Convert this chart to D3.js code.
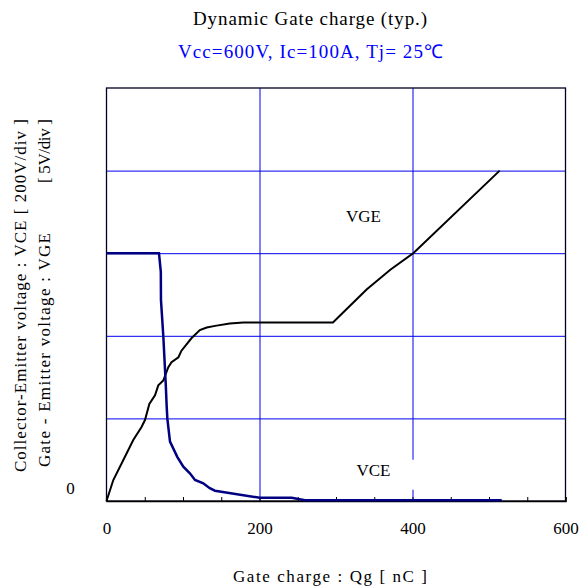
<!DOCTYPE html>
<html>
<head>
<meta charset="utf-8">
<script src="https://cdn.jsdelivr.net/npm/d3@7"></script>
<style>
  body { margin: 0; background: #fff; }
  text { font-family: 'Liberation Serif', 'Times New Roman', serif; }
</style>
</head>
<body>
<div class="canvas"></div>
<script>
'use strict';

// gate charge [nC] / VGE [V]
const qgVGE = [0, 8.9, 22, 35, 46, 50.3, 56, 63.4, 67.7, 74.3, 80.8, 85, 94, 98, 111, 122, 131, 142, 161, 179, 296, 318, 340, 371, 401, 514];
const vge = [0, 1.27, 2.48, 3.69, 4.5, 4.9, 5.87, 6.4, 7.0, 7.3, 8.1, 8.4, 8.7, 9.1, 9.85, 10.35, 10.5, 10.6, 10.75, 10.8, 10.8, 11.8, 12.8, 14.0, 15.0, 20.0];

// gate charge [nC] / VCE [V]
const qgVCE = [0, 68.6, 71, 71.2, 74.3, 77.4, 78.7, 79.5, 83, 92.5, 100.4, 109, 115.7, 126.5, 135, 141.8, 200, 242, 259.5, 516.6];
const vce = [600, 600, 555, 487, 398, 285, 228, 200, 144, 107, 83, 67, 51, 43, 31, 25, 8, 8, 2, 2];

const xTicks = [0, 50, 100, 150, 200, 250, 300, 350, 400, 450, 500, 550, 600];
const xLabels = [0, 200, 400, 600];
const vgeGrid = [5, 10, 15, 20];
const xGrid = [200, 400];

const svg = d3
  .select('.canvas')
  .append('svg')
  .attr('width', 579)
  .attr('height', 587);

const margin = { top: 88, left: 106.5 };
const graphWidth = 459;
const graphHeight = 413;

const graph = svg
  .append('g')
  .attr('transform', `translate(${margin.left},${margin.top})`);

const x = d3.scaleLinear().domain([0, 600]).range([0, graphWidth]);
const yVGE = d3.scaleLinear().domain([0, 25]).range([graphHeight, 0]);
const yVCE = d3.scaleLinear().domain([0, 1000]).range([graphHeight, 0]);

// grid
const gridY = graph
  .append('g')
  .call(d3.axisLeft(yVGE).tickValues(vgeGrid).tickSize(-graphWidth).tickFormat(''));
gridY.select('.domain').remove();
gridY.selectAll('line').attr('stroke', '#0000ee').attr('stroke-width', 1);

const gridX = graph
  .append('g')
  .attr('transform', `translate(0,${graphHeight})`)
  .call(d3.axisBottom(x).tickValues(xGrid).tickSize(-graphHeight).tickFormat(''));
gridX.select('.domain').remove();
gridX.selectAll('line').attr('stroke', '#0000ee').attr('stroke-width', 1);

// border
graph
  .append('rect')
  .attr('width', graphWidth)
  .attr('height', graphHeight)
  .attr('fill', 'none')
  .attr('stroke', '#000020')
  .attr('stroke-width', 1.3);

// x axis with inward minor ticks
const xAxis = d3
  .axisBottom(x)
  .tickValues(xTicks)
  .tickSize(-4)
  .tickPadding(21)
  .tickFormat(d => (xLabels.includes(d) ? d : ''));

const xAxisGroup = graph
  .append('g')
  .attr('transform', `translate(0,${graphHeight})`)
  .call(xAxis);
xAxisGroup.select('.domain').attr('stroke', '#000').attr('stroke-width', 1.5);
xAxisGroup.selectAll('line').attr('stroke', '#000');
xAxisGroup
  .selectAll('text')
  .attr('fill', '#000')
  .style('font-family', "'Liberation Serif', 'Times New Roman', serif")
  .style('font-size', '17px');

// y zero label
graph
  .append('text')
  .attr('x', -36)
  .attr('y', yVGE(0) - 7)
  .attr('text-anchor', 'middle')
  .style('font-size', '17px')
  .text('0');

// label boxes
graph
  .append('rect')
  .attr('x', x(325))
  .attr('y', yVCE(100))
  .attr('width', x(85))
  .attr('height', 30)
  .attr('fill', '#fff');

graph
  .append('text')
  .attr('x', x(349))
  .attr('y', yVCE(61.5))
  .attr('text-anchor', 'middle')
  .style('font-size', '17px')
  .text('VCE');

graph
  .append('text')
  .attr('x', x(336))
  .attr('y', yVGE(16.9))
  .attr('text-anchor', 'middle')
  .style('font-size', '17px')
  .text('VGE');

// curves
const lineVCE = d3
  .line()
  .x(d => x(d[0]))
  .y(d => yVCE(d[1]));

const lineVGE = d3
  .line()
  .x(d => x(d[0]))
  .y(d => yVGE(d[1]));

graph
  .append('path')
  .datum(d3.zip(qgVGE, vge))
  .attr('d', lineVGE)
  .attr('fill', 'none')
  .attr('stroke', '#000')
  .attr('stroke-width', 2);

graph
  .append('path')
  .datum(d3.zip(qgVCE, vce))
  .attr('d', lineVCE)
  .attr('fill', 'none')
  .attr('stroke', '#000080')
  .attr('stroke-width', 2.5);

// titles
svg
  .append('text')
  .attr('x', 193)
  .attr('y', 25)
  .attr('textLength', 234)
  .attr('lengthAdjust', 'spacing')
  .style('font-size', '19px')
  .text('Dynamic Gate charge (typ.)');

svg
  .append('text')
  .attr('x', 178)
  .attr('y', 58)
  .attr('textLength', 265)
  .attr('lengthAdjust', 'spacing')
  .attr('fill', '#0000ff')
  .style('font-size', '19px')
  .text('Vcc=600V,  Ic=100A,  Tj= 25℃');

svg
  .append('text')
  .attr('x', 233)
  .attr('y', 582)
  .attr('textLength', 194)
  .attr('lengthAdjust', 'spacing')
  .style('font-size', '17px')
  .text('Gate charge  :  Qg  [ nC ]');

svg
  .append('text')
  .attr('transform', 'translate(26,472) rotate(-90)')
  .attr('textLength', 353)
  .attr('lengthAdjust', 'spacing')
  .style('font-size', '17px')
  .text('Collector-Emitter voltage : VCE [ 200V/div ]');

svg
  .append('text')
  .attr('transform', 'translate(50,467) rotate(-90)')
  .attr('textLength', 234)
  .attr('lengthAdjust', 'spacing')
  .style('font-size', '17px')
  .text('Gate - Emitter voltage  :  VGE');

svg
  .append('text')
  .attr('transform', 'translate(50,183) rotate(-90)')
  .attr('textLength', 64)
  .attr('lengthAdjust', 'spacing')
  .style('font-size', '17px')
  .text('[ 5V/div ]');
</script>
</body>
</html>
